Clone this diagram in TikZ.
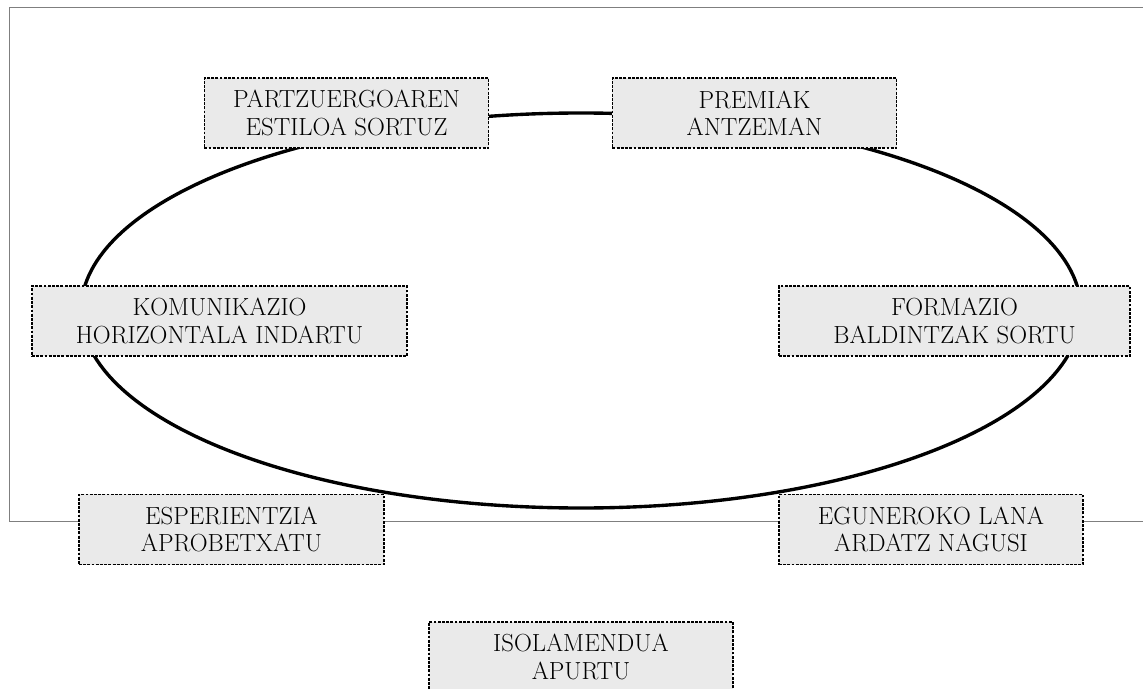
\documentclass[tikz,border=0pt]{standalone}
\usepackage{xcolor}
\definecolor{cycle-black}{HTML}{000000}
\definecolor{cycle-fill}{HTML}{EAEAEA}
\definecolor{frame-gray}{HTML}{7F7F7F}
\usepackage{tikz}
\tikzset{
    cyclebox/.style={draw=cycle-black, fill=cycle-fill, line width=0.9pt,
        dash pattern=on 2pt off 1pt, align=center, inner sep=0pt,
        minimum height=1.75cm, minimum width=#1,
        font=\fontsize{17.6}{19.4}\selectfont},
}

\begin{document}
\begin{tikzpicture}[x=0.025cm, y=-0.025cm]

    % Page
    \useasboundingbox (0, 0) rectangle (1143, 689);

    % Frame
    \draw[frame-gray, line width=0.8pt] (1143, 7.5) -- (9.5, 7.5) -- (9.5, 521.5) -- (1143, 521.5);

    % Cycle
    \draw[cycle-black, line width=2.4pt] (581, 310.5) ellipse (500 and 197.5);

    % Steps
    \node[cyclebox=7.1cm] (partz) at (346.5, 113) {PARTZUERGOAREN\\ESTILOA SORTUZ};
    \node[cyclebox=7.1cm] (premiak) at (754.5, 113) {PREMIAK\\ANTZEMAN};
    \node[cyclebox=9.375cm] (komun) at (219.5, 321) {KOMUNIKAZIO\\HORIZONTALA INDARTU};
    \node[cyclebox=8.775cm] (formazio) at (954.5, 321) {FORMAZIO\\BALDINTZAK SORTU};
    \node[cyclebox=7.625cm] (esper) at (231.5, 529.5) {ESPERIENTZIA\\APROBETXATU};
    \node[cyclebox=7.6cm] (egun) at (931, 529.5) {EGUNEROKO LANA\\ARDATZ NAGUSI};
    \node[cyclebox=7.6cm] (isol) at (581, 657) {ISOLAMENDUA\\APURTU};

\end{tikzpicture}
\end{document}
